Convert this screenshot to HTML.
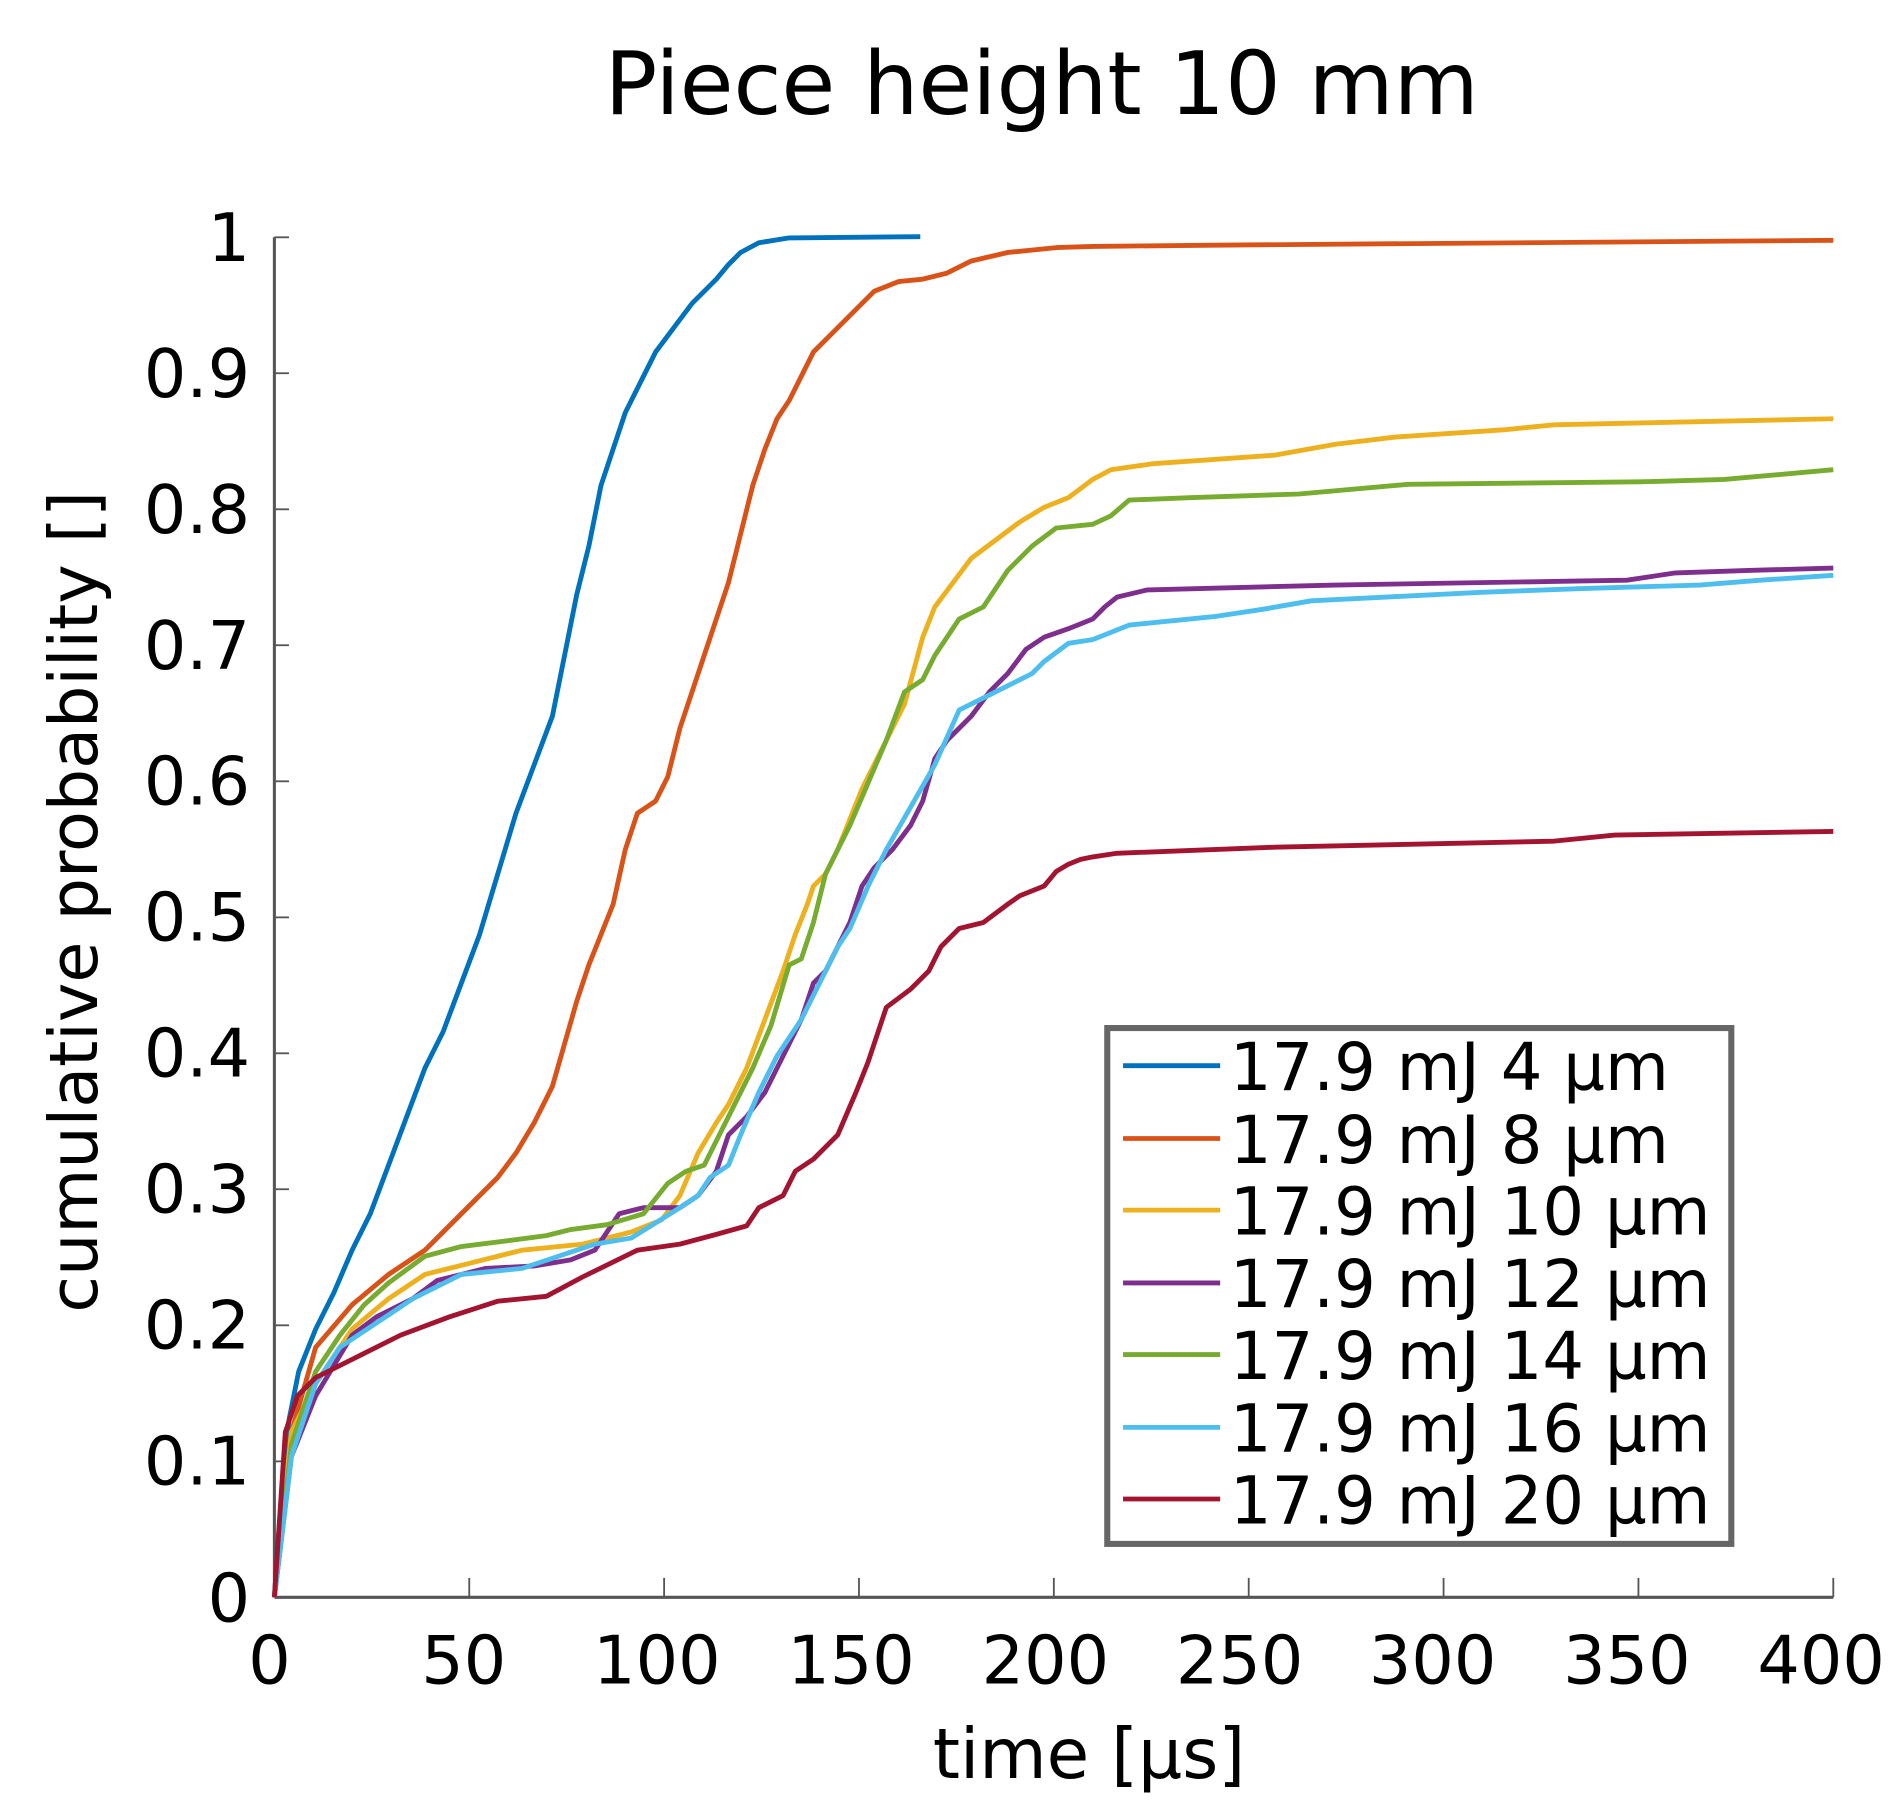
<!DOCTYPE html>
<html><head><meta charset="utf-8"><style>
html,body{margin:0;padding:0;background:#fff;}
svg{display:block;}
text{font-family:"DejaVu Sans","Liberation Sans",sans-serif;fill:#000;}
</style></head><body>
<svg width="1894" height="1817" viewBox="0 0 1560 1497" preserveAspectRatio="none" xmlns="http://www.w3.org/2000/svg">
<rect width="1560" height="1497" fill="#fff"/>
<text x="858" y="94" font-size="72" text-anchor="middle">Piece height 10 mm</text>
<g stroke="#555" stroke-width="2.5" fill="none">
<line x1="226" y1="195.5" x2="226" y2="1316"/>
<line x1="226" y1="1316" x2="1510" y2="1316"/>
</g>
<g stroke="#555" stroke-width="1.5">
<line x1="226" y1="195.5" x2="238" y2="195.5"/><line x1="226" y1="307.5" x2="238" y2="307.5"/><line x1="226" y1="419.6" x2="238" y2="419.6"/><line x1="226" y1="531.6" x2="238" y2="531.6"/><line x1="226" y1="643.7" x2="238" y2="643.7"/><line x1="226" y1="755.8" x2="238" y2="755.8"/><line x1="226" y1="867.8" x2="238" y2="867.8"/><line x1="226" y1="979.8" x2="238" y2="979.8"/><line x1="226" y1="1091.9" x2="238" y2="1091.9"/><line x1="226" y1="1204" x2="238" y2="1204"/>
<line x1="386.5" y1="1316" x2="386.5" y2="1300"/><line x1="547" y1="1316" x2="547" y2="1300"/><line x1="707.5" y1="1316" x2="707.5" y2="1300"/><line x1="868" y1="1316" x2="868" y2="1300"/><line x1="1028.5" y1="1316" x2="1028.5" y2="1300"/><line x1="1189" y1="1316" x2="1189" y2="1300"/><line x1="1349.5" y1="1316" x2="1349.5" y2="1300"/><line x1="1510" y1="1316" x2="1510" y2="1300"/>
</g>
<g font-size="55" text-anchor="end">
<text x="206" y="215">1</text><text x="206" y="327">0.9</text><text x="206" y="439">0.8</text><text x="206" y="551">0.7</text><text x="206" y="663">0.6</text><text x="206" y="775">0.5</text><text x="206" y="887">0.4</text><text x="206" y="999">0.3</text><text x="206" y="1111">0.2</text><text x="206" y="1223">0.1</text><text x="206" y="1336">0</text>
</g>
<g font-size="55" text-anchor="middle">
<text x="222" y="1387">0</text><text x="382" y="1387">50</text><text x="541" y="1387">100</text><text x="701" y="1387">150</text><text x="861" y="1387">200</text><text x="1021" y="1387">250</text><text x="1180" y="1387">300</text><text x="1340" y="1387">350</text><text x="1500" y="1387">400</text>
</g>
<text x="897" y="1465" font-size="57" text-anchor="middle">time [µs]</text>
<text transform="translate(80,743) rotate(-90)" font-size="55" text-anchor="middle">cumulative probability []</text>
<g fill="none" stroke-width="4" stroke-linejoin="round">
<polyline stroke="#0072BD" points="226,1316 232,1230 238,1170 246,1130 260,1095 275,1065 290,1030 305,1000 320,960 335,920 350,880 365,850 380,810 395,770 410,720 425,670 440,630 455,590 465,540 475,490 485,450 495,400 505,370 515,340 530,310 540,290 555,270 570,250 580,240 590,230 600,218 610,208 625,200 650,196 758,195"/>
<polyline stroke="#D95319" points="226,1316 240,1180 260,1110 290,1075 320,1050 350,1030 370,1010 390,990 410,970 425,950 440,925 455,895 465,860 475,825 485,795 495,770 505,745 515,700 525,670 540,660 550,640 560,600 570,570 580,540 590,510 600,480 610,440 620,400 630,370 640,345 650,330 660,310 670,290 690,270 710,250 720,240 740,232 760,230 780,225 800,215 830,208 870,204 900,203 1000,202 1510,198"/>
<polyline stroke="#EDB120" points="226,1316 240,1180 260,1140 290,1095 320,1070 350,1050 390,1040 430,1030 480,1025 520,1015 545,1005 560,985 575,950 590,925 600,910 615,880 630,840 645,800 655,770 665,745 670,730 680,720 690,700 700,675 710,650 720,630 735,600 745,580 760,525 770,500 785,480 800,460 820,445 840,430 860,418 880,410 900,395 915,387 950,382 1050,375 1100,366 1150,360 1240,354 1280,350 1510,345"/>
<polyline stroke="#7E2F8E" points="226,1316 240,1200 260,1150 290,1100 310,1085 340,1070 360,1055 400,1045 440,1043 470,1038 490,1030 510,1000 530,995 560,995 575,985 590,965 600,935 615,920 630,900 645,870 660,840 670,810 680,800 690,780 700,760 710,730 720,715 735,700 750,680 760,660 770,625 780,610 790,600 800,590 815,570 830,555 845,535 860,525 880,518 900,510 910,500 920,492 945,486 1100,482 1340,478 1380,472 1440,470 1510,468"/>
<polyline stroke="#77AC30" points="226,1316 240,1190 260,1130 280,1100 300,1075 320,1057 350,1035 380,1027 420,1022 450,1018 470,1013 500,1009 530,1000 550,975 565,965 580,960 590,940 605,910 620,880 635,845 650,795 660,790 670,760 680,720 700,680 715,645 730,610 745,570 760,560 770,540 790,510 810,500 830,470 850,450 870,435 900,432 915,425 930,412 980,410 1070,407 1160,399 1350,397 1420,395 1510,387"/>
<polyline stroke="#4DBEEE" points="226,1316 240,1200 260,1140 280,1110 310,1090 340,1070 380,1050 430,1045 460,1035 490,1025 520,1020 560,995 575,985 585,970 600,960 610,935 625,900 640,870 660,840 670,820 680,800 690,780 700,765 715,730 730,700 750,665 770,630 790,585 810,575 830,565 850,555 860,545 880,530 900,527 930,515 1000,508 1040,502 1080,495 1140,492 1220,488 1300,485 1400,482 1450,478 1510,474"/>
<polyline stroke="#A2142F" points="226,1316 235,1180 245,1150 260,1135 300,1115 330,1100 370,1085 410,1072 450,1068 480,1052 525,1030 560,1025 590,1017 615,1010 625,995 645,985 655,965 670,955 690,935 705,900 715,875 730,830 750,815 765,800 775,780 790,765 810,760 830,745 840,738 860,730 870,718 880,712 890,708 900,706 920,703 1050,698 1280,693 1330,688 1510,685"/>
</g>
<rect x="912" y="847" width="514" height="425" fill="#fff" stroke="#666" stroke-width="5"/>
<g stroke-width="4">
<line x1="925" y1="878" x2="1005" y2="878" stroke="#0072BD"/>
<line x1="925" y1="938" x2="1005" y2="938" stroke="#D95319"/>
<line x1="925" y1="997" x2="1005" y2="997" stroke="#EDB120"/>
<line x1="925" y1="1057" x2="1005" y2="1057" stroke="#7E2F8E"/>
<line x1="925" y1="1116" x2="1005" y2="1116" stroke="#77AC30"/>
<line x1="925" y1="1176" x2="1005" y2="1176" stroke="#4DBEEE"/>
<line x1="925" y1="1235" x2="1005" y2="1235" stroke="#A2142F"/>
</g>
<g font-size="54">
<text x="1013" y="898">17.9 mJ 4 µm</text>
<text x="1013" y="958">17.9 mJ 8 µm</text>
<text x="1013" y="1017">17.9 mJ 10 µm</text>
<text x="1013" y="1077">17.9 mJ 12 µm</text>
<text x="1013" y="1136">17.9 mJ 14 µm</text>
<text x="1013" y="1196">17.9 mJ 16 µm</text>
<text x="1013" y="1255">17.9 mJ 20 µm</text>
</g>
</svg>
</body></html>
